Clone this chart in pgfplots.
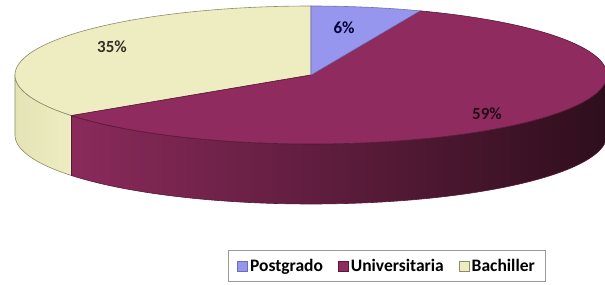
\documentclass[border=0pt]{standalone}
\usepackage{fontspec}
\setmainfont{Carlito}
\usepackage{pgfplots}
\usepackage{pgfplotstable}
\pgfplotsset{compat=1.18}

\definecolor{cPos}{HTML}{9696EE}
\definecolor{cPosD}{HTML}{6E6EB8}
\definecolor{cUni}{HTML}{8F2B5E}
\definecolor{cUniD}{HTML}{5A1838}
\definecolor{cUniL}{HTML}{8A2A5B}
\definecolor{cUniR}{HTML}{2E0E1C}
\definecolor{cBac}{HTML}{EEEDC2}
\definecolor{cBacS}{HTML}{E4E3B4}
\definecolor{cBacD}{HTML}{8C8C6A}

\pgfplotstableread{
label value
Postgrado 6
Universitaria 59
Bachiller 35
}\piedata

\pgfplotstablegetelem{0}{value}\of\piedata\let\vA\pgfplotsretval
\pgfplotstablegetelem{1}{value}\of\piedata\let\vB\pgfplotsretval
\pgfplotstablegetelem{2}{value}\of\piedata\let\vC\pgfplotsretval

% geometry in picture pixels
\def\cx{311}
\def\cy{75}
\def\ra{296}
\def\rb{69}
\def\hh{60}
\pgfmathsetmacro\tA{90}
\pgfmathsetmacro\tB{\tA-3.6*\vA}
\pgfmathsetmacro\tC{\tB-3.6*\vB}
\pgfmathsetmacro\tD{\tC-3.6*\vC}
\pgfmathsetmacro\tCs{\tC+360}

\begin{document}
\begin{tikzpicture}
\begin{axis}[
  width=605bp, height=285bp, scale only axis,
  xmin=0, xmax=605, ymin=0, ymax=285, y dir=reverse,
  hide axis, clip=false,
  legend style={at={(axis cs:387,266)}, anchor=center,
    draw=black!40, line width=0.9bp,
    font=\fontsize{17.5bp}{20bp}\selectfont\bfseries,
    inner xsep=9bp, inner ysep=7bp},
  legend columns=3,
  legend image code/.code={\draw[#1, line width=0.9bp] (0bp,-5bp) rectangle (10bp,5bp);},
  /tikz/every even column/.append style={column sep=13bp},
]
% sides (front half only)
\addplot[forget plot, draw=cBacD, line width=0.6bp, left color=cBacS, right color=cBac,
  domain=0:2, samples=241, variable=\t]
  ({\cx+\ra*cos(\tCs-(\tCs-180)*(1-abs(1-\t)))},
   {\cy-\rb*sin(\tCs-(\tCs-180)*(1-abs(1-\t)))+\hh*(\t>1)}) -- cycle;
\addplot[forget plot, draw=cUniD, line width=0.6bp, left color=cUniL, right color=cUniR,
  domain=0:2, samples=241, variable=\t]
  ({\cx+\ra*cos(\tC+(0-\tC)*(1-abs(1-\t)))},
   {\cy-\rb*sin(\tC+(0-\tC)*(1-abs(1-\t)))+\hh*(\t>1)}) -- cycle;
% top faces
\addplot[forget plot, fill=cBac, draw=cBacD, line width=0.6bp,
  domain=\tD:\tC, samples=120, variable=\t]
  ({\cx+\ra*cos(\t)},{\cy-\rb*sin(\t)}) -- (axis cs:\cx,\cy) -- cycle;
\addplot[forget plot, fill=cUni, draw=cUniD, line width=0.6bp,
  domain=\tC:\tB, samples=180, variable=\t]
  ({\cx+\ra*cos(\t)},{\cy-\rb*sin(\t)}) -- (axis cs:\cx,\cy) -- cycle;
\addplot[forget plot, fill=cPos, draw=cPosD, line width=0.6bp,
  domain=\tB:\tA, samples=30, variable=\t]
  ({\cx+\ra*cos(\t)},{\cy-\rb*sin(\t)}) -- (axis cs:\cx,\cy) -- cycle;
% labels
\node[font=\fontsize{17bp}{20bp}\selectfont\bfseries, text=black!80!blue] at (axis cs:344,28) {6\%};
\node[font=\fontsize{17bp}{20bp}\selectfont\bfseries, text=black!85!olive] at (axis cs:112,47) {35\%};
\node[font=\fontsize{17bp}{20bp}\selectfont\bfseries, text=black!75!cUni] at (axis cs:487,114) {59\%};
% legend
\addlegendimage{fill=cPos, draw=cPosD}
\addlegendentry{Postgrado}
\addlegendimage{fill=cUni, draw=cUniD}
\addlegendentry{Universitaria}
\addlegendimage{fill=cBac, draw=cBacD}
\addlegendentry{Bachiller}
\end{axis}
\pgfresetboundingbox
\path (current axis.south west) rectangle (current axis.north east);
\end{tikzpicture}
\end{document}
